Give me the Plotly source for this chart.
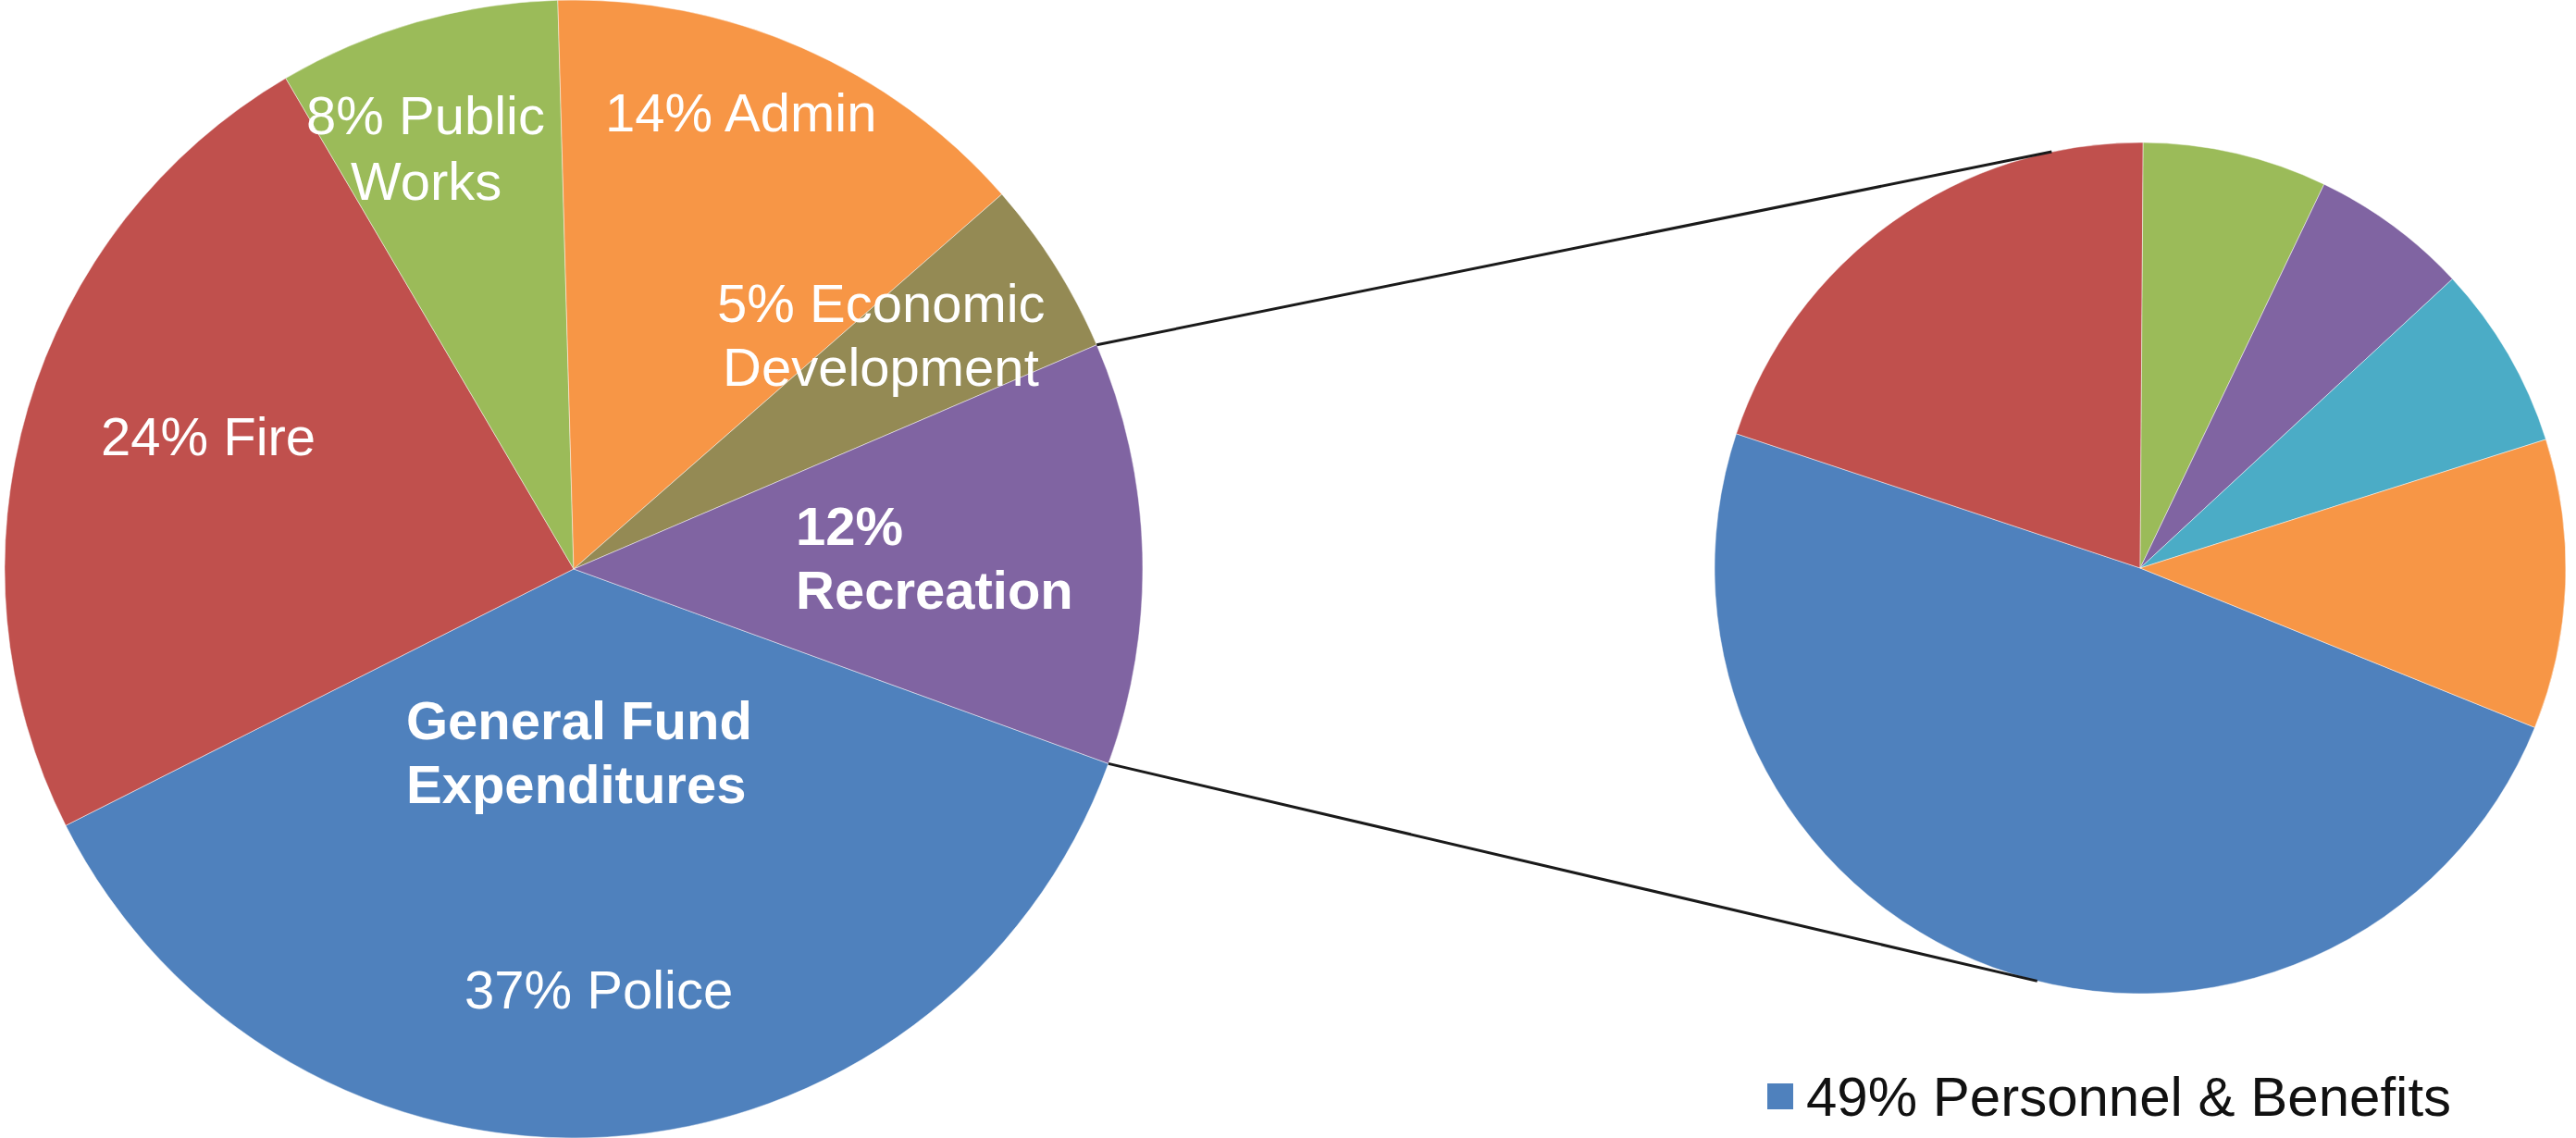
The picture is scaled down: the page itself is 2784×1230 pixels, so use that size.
import math
import plotly.graph_objects as go

# Canvas size in pixels
W, H = 2784, 1230

# General fund expenditures by department (percent of total)
departments = ["Police", "Fire", "Public Works", "Admin", "Economic Development", "Recreation"]
dept_share = [37, 24, 8, 14, 5, 12]
dept_colors = ["#4F81BD", "#C0504D", "#9BBB59", "#F79646", "#948A54", "#8064A2"]

# Breakdown of the Recreation slice (percent of Recreation)
rec_items = ["Personnel & Benefits", "Category 2", "Category 3", "Category 4", "Category 5", "Category 6"]
rec_share = [49, 20, 7, 6, 7, 11]
rec_colors = ["#4F81BD", "#C0504D", "#9BBB59", "#8064A2", "#4BACC6", "#F79646"]

FONT = "Liberation Sans, Arial, sans-serif"
FS = 58

# Pie geometry (pixels)
L_CX, L_CY, L_R = 620, 615, 615
R_CX, R_CY, R_R = 2313, 614, 460
L_ROT = 110
R_ROT = 112


def px(x):
    return x / W


def py(y):
    return 1 - y / H


def edge_point(cx, cy, r, angle_deg):
    a = math.radians(angle_deg)
    return cx + r * math.sin(a), cy - r * math.cos(a)


fig = go.Figure()

fig.add_trace(go.Pie(
    labels=departments, values=dept_share, sort=False, direction="clockwise",
    rotation=L_ROT, textinfo="none", showlegend=False,
    marker=dict(colors=dept_colors, line=dict(color="rgba(255,255,255,0.45)", width=1)),
    domain=dict(x=[px(L_CX - L_R), px(L_CX + L_R)], y=[0, 1]),
))

fig.add_trace(go.Pie(
    labels=rec_items, values=rec_share, sort=False, direction="clockwise",
    rotation=R_ROT, textinfo="none", showlegend=False,
    marker=dict(colors=rec_colors, line=dict(color="rgba(255,255,255,0.45)", width=1)),
    domain=dict(x=[px(R_CX - R_R), px(R_CX + R_R)],
                y=[py(R_CY + R_R), py(R_CY - R_R)]),
))

# Connector lines from the Recreation slice to the breakdown pie
total = sum(dept_share)
rec_idx = departments.index("Recreation")
start_frac = sum(dept_share[:rec_idx]) / total
end_frac = sum(dept_share[:rec_idx + 1]) / total
rec_start = L_ROT + 360 * start_frac
rec_end = L_ROT + 360 * end_frac

connectors = [
    (edge_point(L_CX, L_CY, L_R, rec_start), edge_point(R_CX, R_CY, R_R, 348)),
    (edge_point(L_CX, L_CY, L_R, rec_end), edge_point(R_CX, R_CY, R_R, 194)),
]
for (x0, y0), (x1, y1) in connectors:
    fig.add_shape(type="line", xref="paper", yref="paper",
                  x0=px(x0), y0=py(y0), x1=px(x1), y1=py(y1),
                  line=dict(color="#1a1a1a", width=3), layer="above")


def share_of(name):
    return dept_share[departments.index(name)]


# Slice labels, one entry per text line: (text, x, y, xanchor, bold)
label_lines = [
    (f"{share_of('Public Works')}% Public", 460, 125, "center", False),
    ("Works", 460, 195, "center", False),
    (f"{share_of('Admin')}% Admin", 800, 122, "center", False),
    (f"{share_of('Economic Development')}% Economic", 952, 327, "center", False),
    ("Development", 952, 396, "center", False),
    (f"{share_of('Fire')}% Fire", 225, 471, "center", False),
    (f"{share_of('Recreation')}%", 858, 568, "left", True),
    ("Recreation", 858, 637, "left", True),
    ("General Fund", 437, 778, "left", True),
    ("Expenditures", 437, 847, "left", True),
    (f"{share_of('Police')}% Police", 647, 1069, "center", False),
]
for text, x, y, xa, bold in label_lines:
    fig.add_annotation(
        text=f"<b>{text}</b>" if bold else text,
        x=px(x), y=py(y), xref="paper", yref="paper",
        xanchor=xa, yanchor="middle", showarrow=False,
        font=dict(family=FONT, size=FS, color="white"),
    )

# Legend entry for the first breakdown category
fig.add_shape(type="rect", xref="paper", yref="paper",
              x0=px(1910), x1=px(1938), y0=py(1199), y1=py(1171),
              fillcolor=rec_colors[0], line=dict(width=0))
fig.add_annotation(
    text=f"{rec_share[0]}% {rec_items[0]}",
    x=px(1950), y=py(1185), xref="paper", yref="paper",
    xanchor="left", yanchor="middle", showarrow=False,
    font=dict(family=FONT, size=60, color="#111111"),
)

fig.update_layout(
    width=W, height=H,
    margin=dict(l=0, r=0, t=0, b=0, pad=0),
    paper_bgcolor="white", plot_bgcolor="white",
    showlegend=False,
)

fig.write_html("out.html", config={"displayModeBar": False})
